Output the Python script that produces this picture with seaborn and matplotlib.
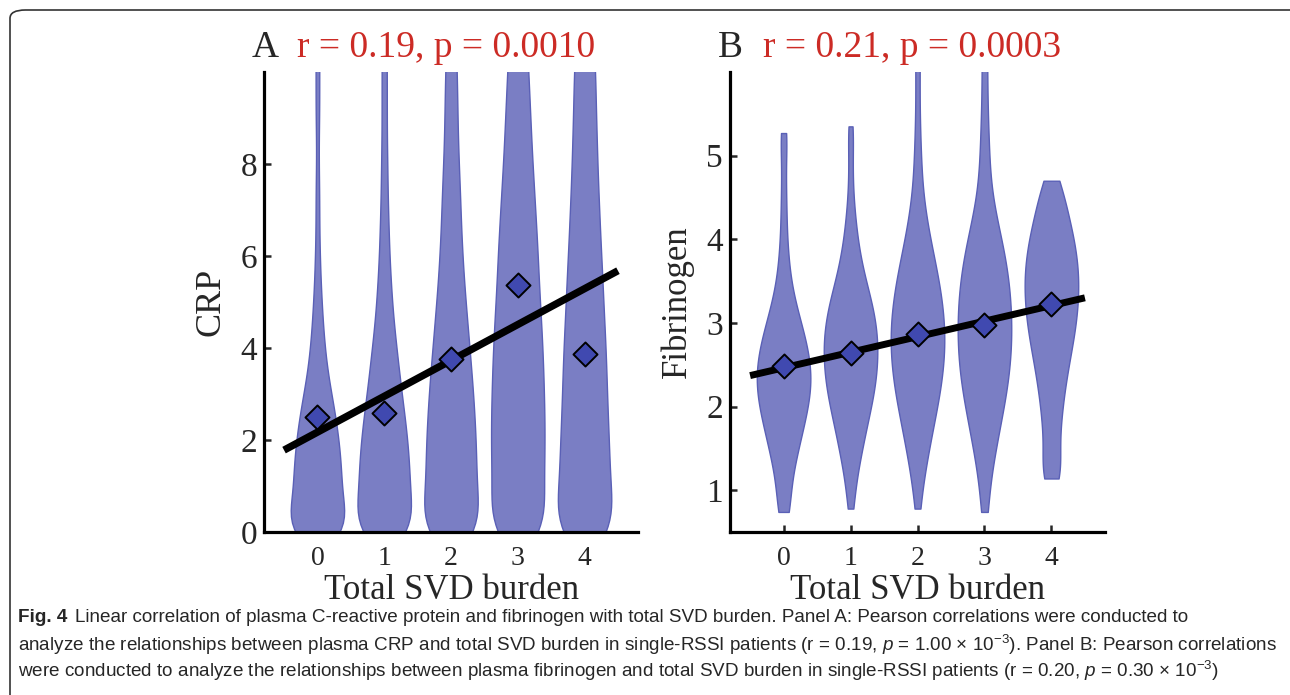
import numpy as np
import pandas as pd
import matplotlib
matplotlib.use('Agg')
import matplotlib.pyplot as plt
import seaborn as sns
from matplotlib.patches import FancyBboxPatch

# ---- data ----
svd = [0, 1, 2, 3, 4]

# CRP panel: representative values (grid) and how many patients sit at each
crp_grid = [0.05, 0.5, 1.0, 1.5, 2.0, 2.5, 3.0, 3.5, 4.0, 4.5, 5.0, 5.5,
            6.0, 6.5, 7.0, 7.5, 8.0, 8.5, 9.0, 9.5, 10.0, 10.5, 11.0, 11.5]
crp_n0 = [58, 39, 40, 39, 35, 30, 23, 16, 12, 9, 7, 5, 4, 3, 3, 3, 2, 2, 3, 3, 3, 3, 3, 3]
crp_n1 = [50, 39, 40, 39, 36, 32, 27, 23, 19, 15, 12, 10, 8, 7, 6, 5, 5, 4, 4, 4, 4, 4, 3, 3]
crp_n2 = [56, 39, 40, 40, 39, 37, 35, 32, 29, 26, 23, 20, 18, 16, 15, 14, 12, 11, 10, 10, 9, 8, 7, 6]
crp_n3 = [50, 36, 38, 40, 40, 40, 39, 38, 37, 35, 33, 31, 30, 28, 26, 24, 22, 20, 19, 17, 16, 14, 12, 10]
crp_n4 = [58, 39, 40, 39, 38, 36, 35, 34, 33, 31, 29, 28, 26, 24, 23, 21, 20, 19, 18, 17, 17, 15, 13, 11]
crp_mean = [2.49, 2.59, 3.77, 5.36, 3.88]
crp_fit = [1.78, 5.68]

# Fibrinogen panel
fib_grid = [0.75, 1.0, 1.25, 1.5, 1.75, 2.0, 2.25, 2.5, 2.75, 3.0, 3.25, 3.5,
            3.75, 4.0, 4.25, 4.5, 4.75, 5.0, 5.25, 5.5, 5.75, 6.0, 6.25]
fib_n0 = [8, 9, 14, 21, 28, 35, 40, 39, 33, 25, 16, 10, 7, 5, 4, 4, 3, 3, 4, 0, 0, 0, 0]
fib_n1 = [0, 6, 11, 17, 23, 30, 36, 39, 40, 37, 31, 22, 15, 10, 7, 4, 3, 3, 3, 0, 0, 0, 0]
fib_n2 = [0, 6, 11, 17, 22, 29, 34, 38, 40, 39, 36, 31, 25, 18, 13, 8, 6, 5, 4, 3, 3, 3, 3]
fib_n3 = [4, 6, 11, 17, 22, 29, 34, 38, 40, 40, 39, 36, 32, 25, 18, 11, 8, 7, 6, 5, 4, 4, 4]
fib_n4 = [0, 0, 12, 11, 13, 16, 20, 25, 31, 36, 39, 40, 38, 33, 26, 18, 0, 0, 0, 0, 0, 0, 0]
fib_lo = [0.74, 0.78, 0.78, 0.74, 1.14]
fib_hi = [5.27, 5.35, 6.4, 6.4, 4.70]
fib_lo_n = [3, 4, 4, 3, 10]
fib_hi_n = [3, 3, 3, 3, 10]
fib_mean = [2.48, 2.64, 2.87, 2.97, 3.23]
fib_fit = [2.37, 3.30]

fit_x = [-0.5, 4.5]

violin_c = '#7a7ec4'
edge_c = '#5a60b6'
mean_c = '#4049b0'
red = '#cc2b25'


def build(grid, counts, lo=None, hi=None, lo_n=None, hi_n=None):
    rows = []
    for g, n in zip(svd, counts):
        vals = list(np.repeat(grid, n))
        if lo is not None:
            vals += [lo[g]] * lo_n[g] + [hi[g]] * hi_n[g]
        rows += [(g, v) for v in vals]
    return pd.DataFrame(rows, columns=['svd', 'val'])


df_crp = build(crp_grid, [crp_n0, crp_n1, crp_n2, crp_n3, crp_n4])
df_fib = build(fib_grid, [fib_n0, fib_n1, fib_n2, fib_n3, fib_n4],
               fib_lo, fib_hi, fib_lo_n, fib_hi_n)

sns.set_style('ticks')
plt.rcParams['font.family'] = ['Liberation Serif', 'DejaVu Serif']
plt.rcParams['mathtext.fontset'] = 'custom'
plt.rcParams['mathtext.rm'] = 'Liberation Sans'
plt.rcParams['mathtext.it'] = 'Liberation Sans:italic'

W, H = 1290, 695
fig = plt.figure(figsize=(W / 100, H / 100), dpi=100)
axA = fig.add_axes([264 / W, 1 - 532 / H, 374 / W, 460 / H])
axB = fig.add_axes([730 / W, 1 - 532 / H, 375 / W, 460 / H])


def panel(ax, df, means, fit, ylim, yticks, ylabel, ylab_size, bw, cut, lw):
    sns.violinplot(data=df, x='svd', y='val', ax=ax, color=violin_c, saturation=1,
                   inner=None, cut=cut, density_norm='width', width=0.8,
                   linewidth=1.0, linecolor=edge_c, bw_method=bw)
    sns.lineplot(x=fit_x, y=fit, ax=ax, color='black', lw=lw, estimator=None,
                 solid_capstyle='butt', zorder=3)
    sns.scatterplot(x=svd, y=means, ax=ax, marker='D', s=150, color=mean_c,
                    edgecolor='black', linewidth=1.4, zorder=4)
    ax.set_xlim(-0.8, 4.8)
    ax.set_ylim(*ylim)
    ax.set_yticks(yticks)
    ax.set_xticks(svd)
    ax.set_xticklabels([str(s) for s in svd])
    ax.tick_params(axis='y', direction='in', length=5, width=1.8, labelsize=24, pad=5)
    ax.tick_params(axis='x', direction='in', length=5, width=1.8, labelsize=20, pad=10)
    ax.set_xlabel('Total SVD burden', fontsize=25)
    ax.set_ylabel(ylabel, fontsize=ylab_size)
    ax.xaxis.set_label_coords(0.5, -0.092)
    ax.yaxis.set_label_coords(-0.097, 0.5)
    sns.despine(ax=ax)
    for s in ['left', 'bottom']:
        ax.spines[s].set_linewidth(2.3)
        ax.spines[s].set_color('black')


panel(axA, df_crp, crp_mean, crp_fit, (0, 10), [0, 2, 4, 6, 8], 'CRP', 26, 0.18, 2, 5.3)
panel(axB, df_fib, fib_mean, fib_fit, (0.5, 6), [1, 2, 3, 4, 5], 'Fibrinogen', 25, 0.26, 0, 5.0)

# panel titles
fig.text(252 / W, 1 - 57 / H, 'A', fontsize=27, va='baseline')
fig.text(297 / W, 1 - 57 / H, 'r = 0.19, p = 0.0010', fontsize=27, color=red, va='baseline')
fig.text(718 / W, 1 - 57 / H, 'B', fontsize=27, va='baseline')
fig.text(763 / W, 1 - 57 / H, 'r = 0.21, p = 0.0003', fontsize=27, color=red, va='baseline')

# frame of the figure box (top and left edges visible)
fig.patches.append(FancyBboxPatch((10 / W, -0.2), 1.5, 1 - 10 / H + 0.2,
                                  boxstyle='round,pad=0,rounding_size=0.012',
                                  transform=fig.transFigure, fill=False,
                                  edgecolor='#333333', linewidth=1.2))

# caption
cfont = ['Liberation Sans', 'DejaVu Sans']
line1 = ('Linear correlation of plasma C-reactive protein and fibrinogen with total SVD burden. '
         'Panel A: Pearson correlations were conducted to')
line2 = ('analyze the relationships between plasma CRP and total SVD burden in single-RSSI patients '
         '(r = 0.19, $p$ = 1.00 \u00d7 10$^{-3}$). Panel B: Pearson correlations')
line3 = ('were conducted to analyze the relationships between plasma fibrinogen and total SVD burden '
         'in single-RSSI patients (r = 0.20, $p$ = 0.30 \u00d7 10$^{-3}$)')

r = fig.canvas.get_renderer()
probe = fig.text(0, 0, line2, fontsize=12, family=cfont)
csize = 12 * (1275 - 18) / probe.get_window_extent(r).width
probe.remove()

t = fig.text(18 / W, 1 - 618 / H, 'Fig. 4', fontsize=csize, fontweight='bold',
             family=cfont, va='center')
bb = t.get_window_extent(r)
fig.text((bb.x1 + 8) / W, 1 - 618 / H, line1, fontsize=csize, family=cfont, va='center')
fig.text(18 / W, 1 - 645 / H, line2, fontsize=csize, family=cfont, va='center')
fig.text(18 / W, 1 - 671 / H, line3, fontsize=csize, family=cfont, va='center')

fig.savefig('out.png', dpi=100)
